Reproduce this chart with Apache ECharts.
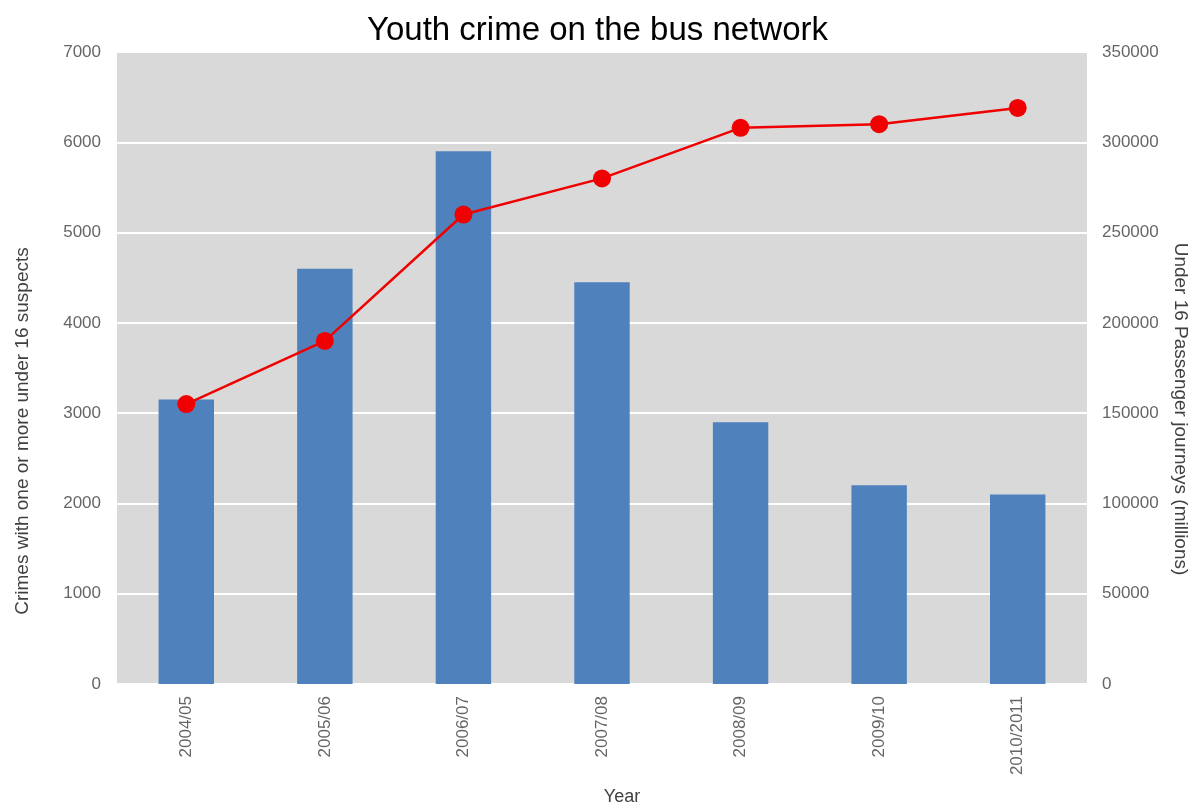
<!DOCTYPE html>
<html>
<head>
<meta charset="utf-8">
<script src="https://cdn.jsdelivr.net/npm/echarts@6/dist/echarts.min.js"></script>
<style>html,body{margin:0;padding:0;background:#fff;}#c{width:1195px;height:808px;}</style>
</head>
<body>
<div id="c"></div>
<script>
const categories = ['2004/05','2005/06','2006/07','2007/08','2008/09','2009/10','2010/2011'];
const crimes = [3150, 4600, 5900, 4450, 2900, 2200, 2100];
const journeys = [155000, 190000, 260000, 280000, 308000, 310000, 319000];
const leftTicks = {min: 0, max: 7000, interval: 1000};
const rightTicks = {min: 0, max: 350000, interval: 50000};

const FONT = '"Liberation Sans", Arial, sans-serif';
const plain = v => String(v);
const chart = echarts.init(document.getElementById('c'), null, {renderer: 'canvas'});
chart.setOption({
  animation: false,
  backgroundColor: '#ffffff',
  title: {
    text: 'Youth crime on the bus network',
    left: 'center', top: 9,
    textStyle: {fontFamily: FONT, fontSize: 33, fontWeight: 'normal', color: '#000'}
  },
  grid: {left: 117, right: 108, top: 52, bottom: 124, show: true, backgroundColor: '#d9d9d9', borderWidth: 0,
         containLabel: false, outerBoundsMode: 'none'},
  xAxis: {
    type: 'category', data: categories,
    name: 'Year', nameLocation: 'middle', nameGap: 104,
    nameTextStyle: {fontFamily: FONT, fontSize: 18, color: '#404040', padding: [0, 0, 0, 40]},
    axisLine: {show: false}, axisTick: {show: false},
    axisLabel: {rotate: 90, margin: 12, fontFamily: FONT, fontSize: 17, color: '#666666'}
  },
  yAxis: [
    {
      type: 'value', min: leftTicks.min, max: leftTicks.max, interval: leftTicks.interval,
      name: 'Crimes with one or more under 16 suspects', nameLocation: 'middle', nameGap: 85,
      nameTextStyle: {fontFamily: FONT, fontSize: 19, color: '#404040', padding: [0, 126, 0, 0]},
      axisLine: {show: false}, axisTick: {show: false},
      axisLabel: {margin: 16, fontFamily: FONT, fontSize: 17, color: '#666666', formatter: plain},
      splitLine: {show: true, lineStyle: {color: '#ffffff', width: 2}}
    },
    {
      type: 'value', min: rightTicks.min, max: rightTicks.max, interval: rightTicks.interval,
      name: 'Under 16 Passenger journeys (millions)', nameLocation: 'middle', nameGap: 84, nameRotate: -90,
      nameTextStyle: {fontFamily: FONT, fontSize: 19, color: '#404040', padding: [0, 0, 0, 82]},
      axisLine: {show: false}, axisTick: {show: false},
      axisLabel: {margin: 15, fontFamily: FONT, fontSize: 17, color: '#666666', formatter: plain},
      splitLine: {show: false}
    }
  ],
  series: [
    {
      type: 'bar', data: crimes, yAxisIndex: 0, barWidth: '40%',
      itemStyle: {color: '#4f81bd'}
    },
    {
      type: 'line', data: journeys, yAxisIndex: 1,
      symbol: 'circle', symbolSize: 18,
      lineStyle: {color: '#f00000', width: 2.5},
      itemStyle: {color: '#f00000'}
    }
  ]
});
</script>
</body>
</html>
